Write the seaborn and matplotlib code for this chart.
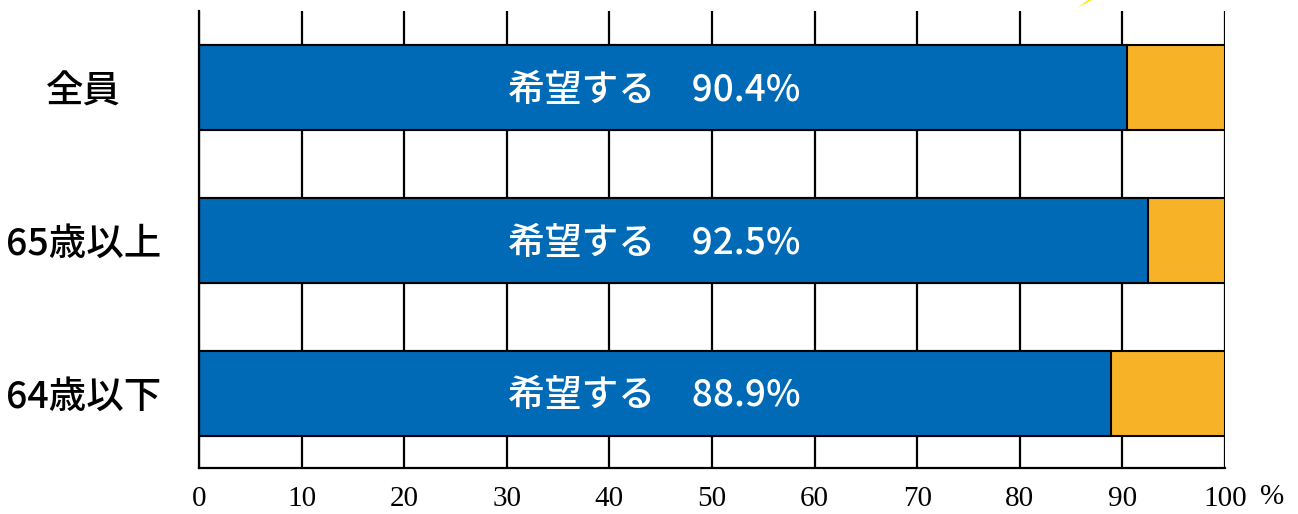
import matplotlib
matplotlib.use("Agg")
import matplotlib.pyplot as plt
import seaborn as sns
import pandas as pd
from matplotlib.patches import Polygon

# データ
groups = ["全員", "65歳以上", "64歳以下"]
kibou = [90.4, 92.5, 88.9]   # 希望する (%)
total = [100, 100, 100]
xticks = [0, 10, 20, 30, 40, 50, 60, 70, 80, 90, 100]

blue = "#006AB6"
orange = "#F7B228"

sns.set_style("white")
plt.rcParams["font.family"] = ["Noto Sans CJK JP", "DejaVu Sans"]
plt.rcParams["text.color"] = "black"
plt.rcParams["xtick.color"] = "black"
plt.rcParams["ytick.color"] = "black"

df = pd.DataFrame({"group": groups, "kibou": kibou, "total": total})

fig = plt.figure(figsize=(12.98, 5.14), dpi=100)
ax = fig.add_axes([0.1533, 0.0895, 0.7905, 0.8891])

# 縦の目盛線
for t in xticks:
    ax.axvline(t, color="black", lw=1.6, zorder=0)

# 100% の背景 (希望しない) -> 希望する を上に重ねる
sns.barplot(data=df, x="total", y="group", orient="h", color=orange,
            width=0.556, edgecolor="black", linewidth=1.5, saturation=1, ax=ax)
sns.barplot(data=df, x="kibou", y="group", orient="h", color=blue,
            width=0.556, edgecolor="black", linewidth=1.5, saturation=1, ax=ax)

for i, v in enumerate(kibou):
    ax.text(44.4, i + 0.015, f"希望する　{v}%", color="white", fontsize=26.5,
            fontweight="medium", ha="center", va="center", zorder=5)

ax.set_xlim(0, 100)
ax.set_ylim(2.49, -0.5)
ax.set_xticks(xticks)
ax.set_xticklabels([str(t) for t in xticks], family="Liberation Serif", fontsize=21)
ax.set_yticks(range(len(groups)))
ax.set_yticklabels(groups, fontsize=27, fontweight="medium", ha="center")
ax.tick_params(axis="x", length=0, pad=13)
ax.tick_params(axis="y", length=0, pad=83)
ax.set_xlabel("")
ax.set_ylabel("")

for s in ["top", "right"]:
    ax.spines[s].set_visible(False)
for s in ["left", "bottom"]:
    ax.spines[s].set_color("black")
    ax.spines[s].set_linewidth(1.6)

fig.text(1272 / 1298, 1 - 497 / 514, "%", family="Liberation Serif",
         fontsize=21, ha="center", va="center")

# 上の黄色い引き出し線の一部
fig.patches.append(Polygon([[1076 / 1298, 1 - 9 / 514], [1088 / 1298, 1.0],
                            [1092 / 1298, 1.0], [1079 / 1298, 1 - 7 / 514]],
                           closed=True, transform=fig.transFigure,
                           facecolor="#FFE600", edgecolor="none"))

fig.savefig("out.png", dpi=100)
